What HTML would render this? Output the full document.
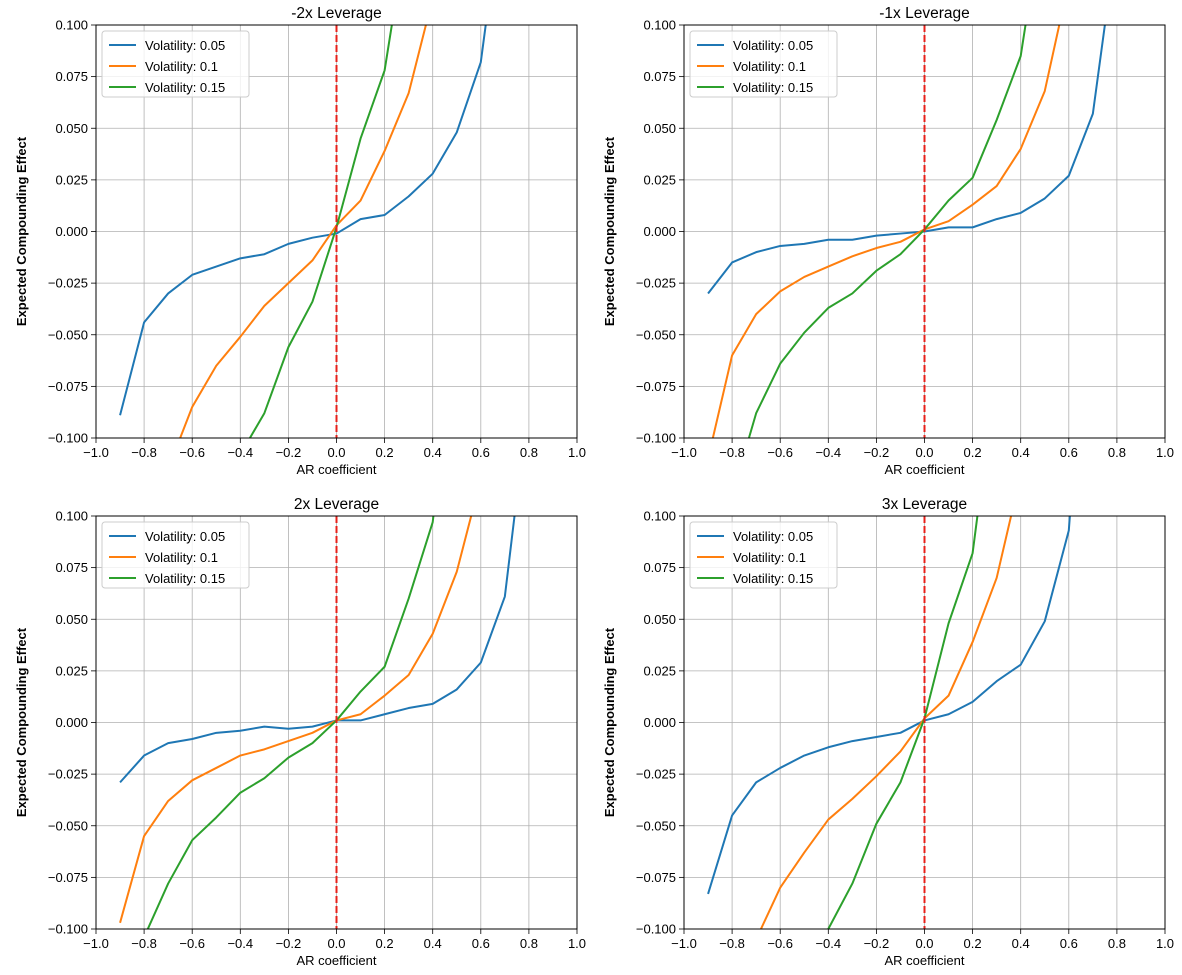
<!DOCTYPE html>
<html><head><meta charset="utf-8"><style>
html,body{margin:0;padding:0;background:#fff;width:1182px;height:975px;overflow:hidden;}
svg{display:block;font-family:"Liberation Sans","DejaVu Sans",sans-serif;}
</style></head><body>
<svg id="chart" width="1182" height="975" viewBox="0 0 1182 975" xmlns="http://www.w3.org/2000/svg"></svg>
<script>
const xValues=[-0.9,-0.8,-0.7,-0.6,-0.5,-0.4,-0.3,-0.2,-0.1,0,0.1,0.2,0.3,0.4,0.5,0.6,0.7,0.8,0.9];
const xTicks=[-1.0,-0.8,-0.6,-0.4,-0.2,0.0,0.2,0.4,0.6,0.8,1.0];
const yTicks=[-0.1,-0.075,-0.05,-0.025,0,0.025,0.05,0.075,0.1];
const seriesNames=["Volatility: 0.05","Volatility: 0.1","Volatility: 0.15"];
const panelTitles=["-2x Leverage","-1x Leverage","2x Leverage","3x Leverage"];
const m2Blue=[-0.089,-0.044,-0.030,-0.021,-0.017,-0.013,-0.011,-0.006,-0.003,-0.001,0.006,0.008,0.017,0.028,0.048,0.082,0.17,0.4,0.8];
const m2Orange=[-0.2,-0.15,-0.115,-0.085,-0.065,-0.051,-0.036,-0.025,-0.014,0.003,0.015,0.039,0.067,0.113,0.2,0.4,0.8,1.5,3];
const m2Green=[-0.4,-0.3,-0.22,-0.17,-0.13,-0.108,-0.088,-0.056,-0.034,0.002,0.045,0.078,0.151,0.3,0.6,1,2,3,4];
const m1Blue=[-0.030,-0.015,-0.010,-0.007,-0.006,-0.004,-0.004,-0.002,-0.001,0,0.002,0.002,0.006,0.009,0.016,0.027,0.057,0.143,0.4];
const m1Orange=[-0.11,-0.060,-0.040,-0.029,-0.022,-0.017,-0.012,-0.008,-0.005,0.001,0.005,0.013,0.022,0.040,0.068,0.121,0.3,0.6,1];
const m1Green=[-0.2,-0.128,-0.088,-0.064,-0.049,-0.037,-0.030,-0.019,-0.011,0.001,0.015,0.026,0.054,0.085,0.16,0.3,0.6,1,2];
const p2Blue=[-0.029,-0.016,-0.010,-0.008,-0.005,-0.004,-0.002,-0.003,-0.002,0.001,0.001,0.004,0.007,0.009,0.016,0.029,0.061,0.158,0.4];
const p2Orange=[-0.097,-0.055,-0.038,-0.028,-0.022,-0.016,-0.013,-0.009,-0.005,0.001,0.004,0.013,0.023,0.043,0.073,0.118,0.3,0.6,1];
const p2Green=[-0.14,-0.104,-0.078,-0.057,-0.046,-0.034,-0.027,-0.017,-0.010,0.001,0.015,0.027,0.060,0.097,0.2,0.4,0.8,1.5,3];
const p3Blue=[-0.083,-0.045,-0.029,-0.022,-0.016,-0.012,-0.009,-0.007,-0.005,0.001,0.004,0.010,0.020,0.028,0.049,0.093,0.25,0.5,1];
const p3Orange=[-0.2,-0.14,-0.105,-0.080,-0.063,-0.047,-0.037,-0.026,-0.014,0.002,0.013,0.039,0.070,0.12,0.25,0.5,1,2,3];
const p3Green=[-0.5,-0.35,-0.25,-0.2,-0.15,-0.100,-0.078,-0.049,-0.029,0.002,0.048,0.082,0.172,0.35,0.7,1.2,2,3,4];
const panelSeries=[[m2Blue,m2Orange,m2Green],[m1Blue,m1Orange,m1Green],[p2Blue,p2Orange,p2Green],[p3Blue,p3Orange,p3Green]];
const colors=["#1f77b4","#ff7f0e","#2ca02c"];
const NS="http://www.w3.org/2000/svg";
const svg=document.getElementById("chart");
function mk(tag,attrs,parent){const e=document.createElementNS(NS,tag);for(const k in attrs)e.setAttribute(k,attrs[k]);(parent||svg).appendChild(e);return e;}
function fmt(t,d){const s=Math.abs(t).toFixed(d);return (t<-1e-9?"\u2212":"")+s;}
const boxes=[[96,25],[684,25],[96,516],[684,516]];
const W=481,H=413;
boxes.forEach((b,pi)=>{
  const [L,T]=b;
  const sx=v=>L+(v+1)/2*W;
  const sy=v=>T+(0.1-v)/0.2*H;
  const g=mk("g",{});
  
  
  const cid="clip"+pi;
  const cp=mk("clipPath",{id:cid},g);mk("rect",{x:L,y:T,width:W,height:H},cp);
  xTicks.forEach(t=>{
    const x=sx(t);
    const gl=mk("line",{x1:x,x2:x,y1:T,y2:T+H,stroke:"#b0b0b0","stroke-width":0.8},g);
    
    mk("line",{x1:x,x2:x,y1:T+H,y2:T+H+5,stroke:"#000","stroke-width":0.8},g);
    const tx=mk("text",{x:x,y:T+H+19,"text-anchor":"middle","font-size":13},g);
    tx.textContent=fmt(t,1);
    
  });
  yTicks.forEach(t=>{
    const y=sy(t);
    const gl=mk("line",{x1:L,x2:L+W,y1:y,y2:y,stroke:"#b0b0b0","stroke-width":0.8},g);
    
    mk("line",{x1:L-5,x2:L,y1:y,y2:y,stroke:"#000","stroke-width":0.8},g);
    const tx=mk("text",{x:L-8,y:y+4.5,"text-anchor":"end","font-size":13},g);
    tx.textContent=fmt(t,3);
    
  });
  panelSeries[pi].forEach((s,si)=>{
    const pts=xValues.map((xv,i)=>sx(xv)+","+sy(s[i])).join(" ");
    const pl=mk("polyline",{points:pts,fill:"none",stroke:colors[si],"stroke-width":2,"clip-path":"url(#"+cid+")","stroke-linejoin":"round"},g);
    
    
  });
  const vl=mk("line",{x1:sx(0),x2:sx(0),y1:T,y2:T+H,stroke:"#e8201a","stroke-width":2,"stroke-dasharray":"7,3"},g);
  
  const fr=mk("rect",{x:L,y:T,width:W,height:H,fill:"none",stroke:"#000","stroke-width":1},g);
  
  const ti=mk("text",{x:L+W/2,y:T-7,"text-anchor":"middle","font-size":15.5},g);
  ti.textContent=panelTitles[pi];
  
  const xl=mk("text",{x:L+W/2,y:T+H+36,"text-anchor":"middle","font-size":13},g);
  xl.textContent="AR coefficient";
  
  const yx=L-70, yy=T+H/2;
  const yl=mk("text",{x:yx,y:yy,"text-anchor":"middle","font-size":13,"font-weight":"bold",transform:"rotate(-90 "+yx+" "+yy+")"},g);
  yl.textContent="Expected Compounding Effect";
  
  const lg=mk("g",{},g);
  
  mk("rect",{x:L+6,y:T+6,width:147,height:66,rx:3,fill:"#fff","fill-opacity":0.8,stroke:"#ccc"},lg);
  seriesNames.forEach((n,si)=>{
    const ly=T+20+si*21;
    mk("line",{x1:L+13,x2:L+40,y1:ly,y2:ly,stroke:colors[si],"stroke-width":2},lg);
    const t=mk("text",{x:L+49,y:ly+5,"font-size":13},lg);
    t.textContent=n;
    
  });
});
</script>
</body></html>
